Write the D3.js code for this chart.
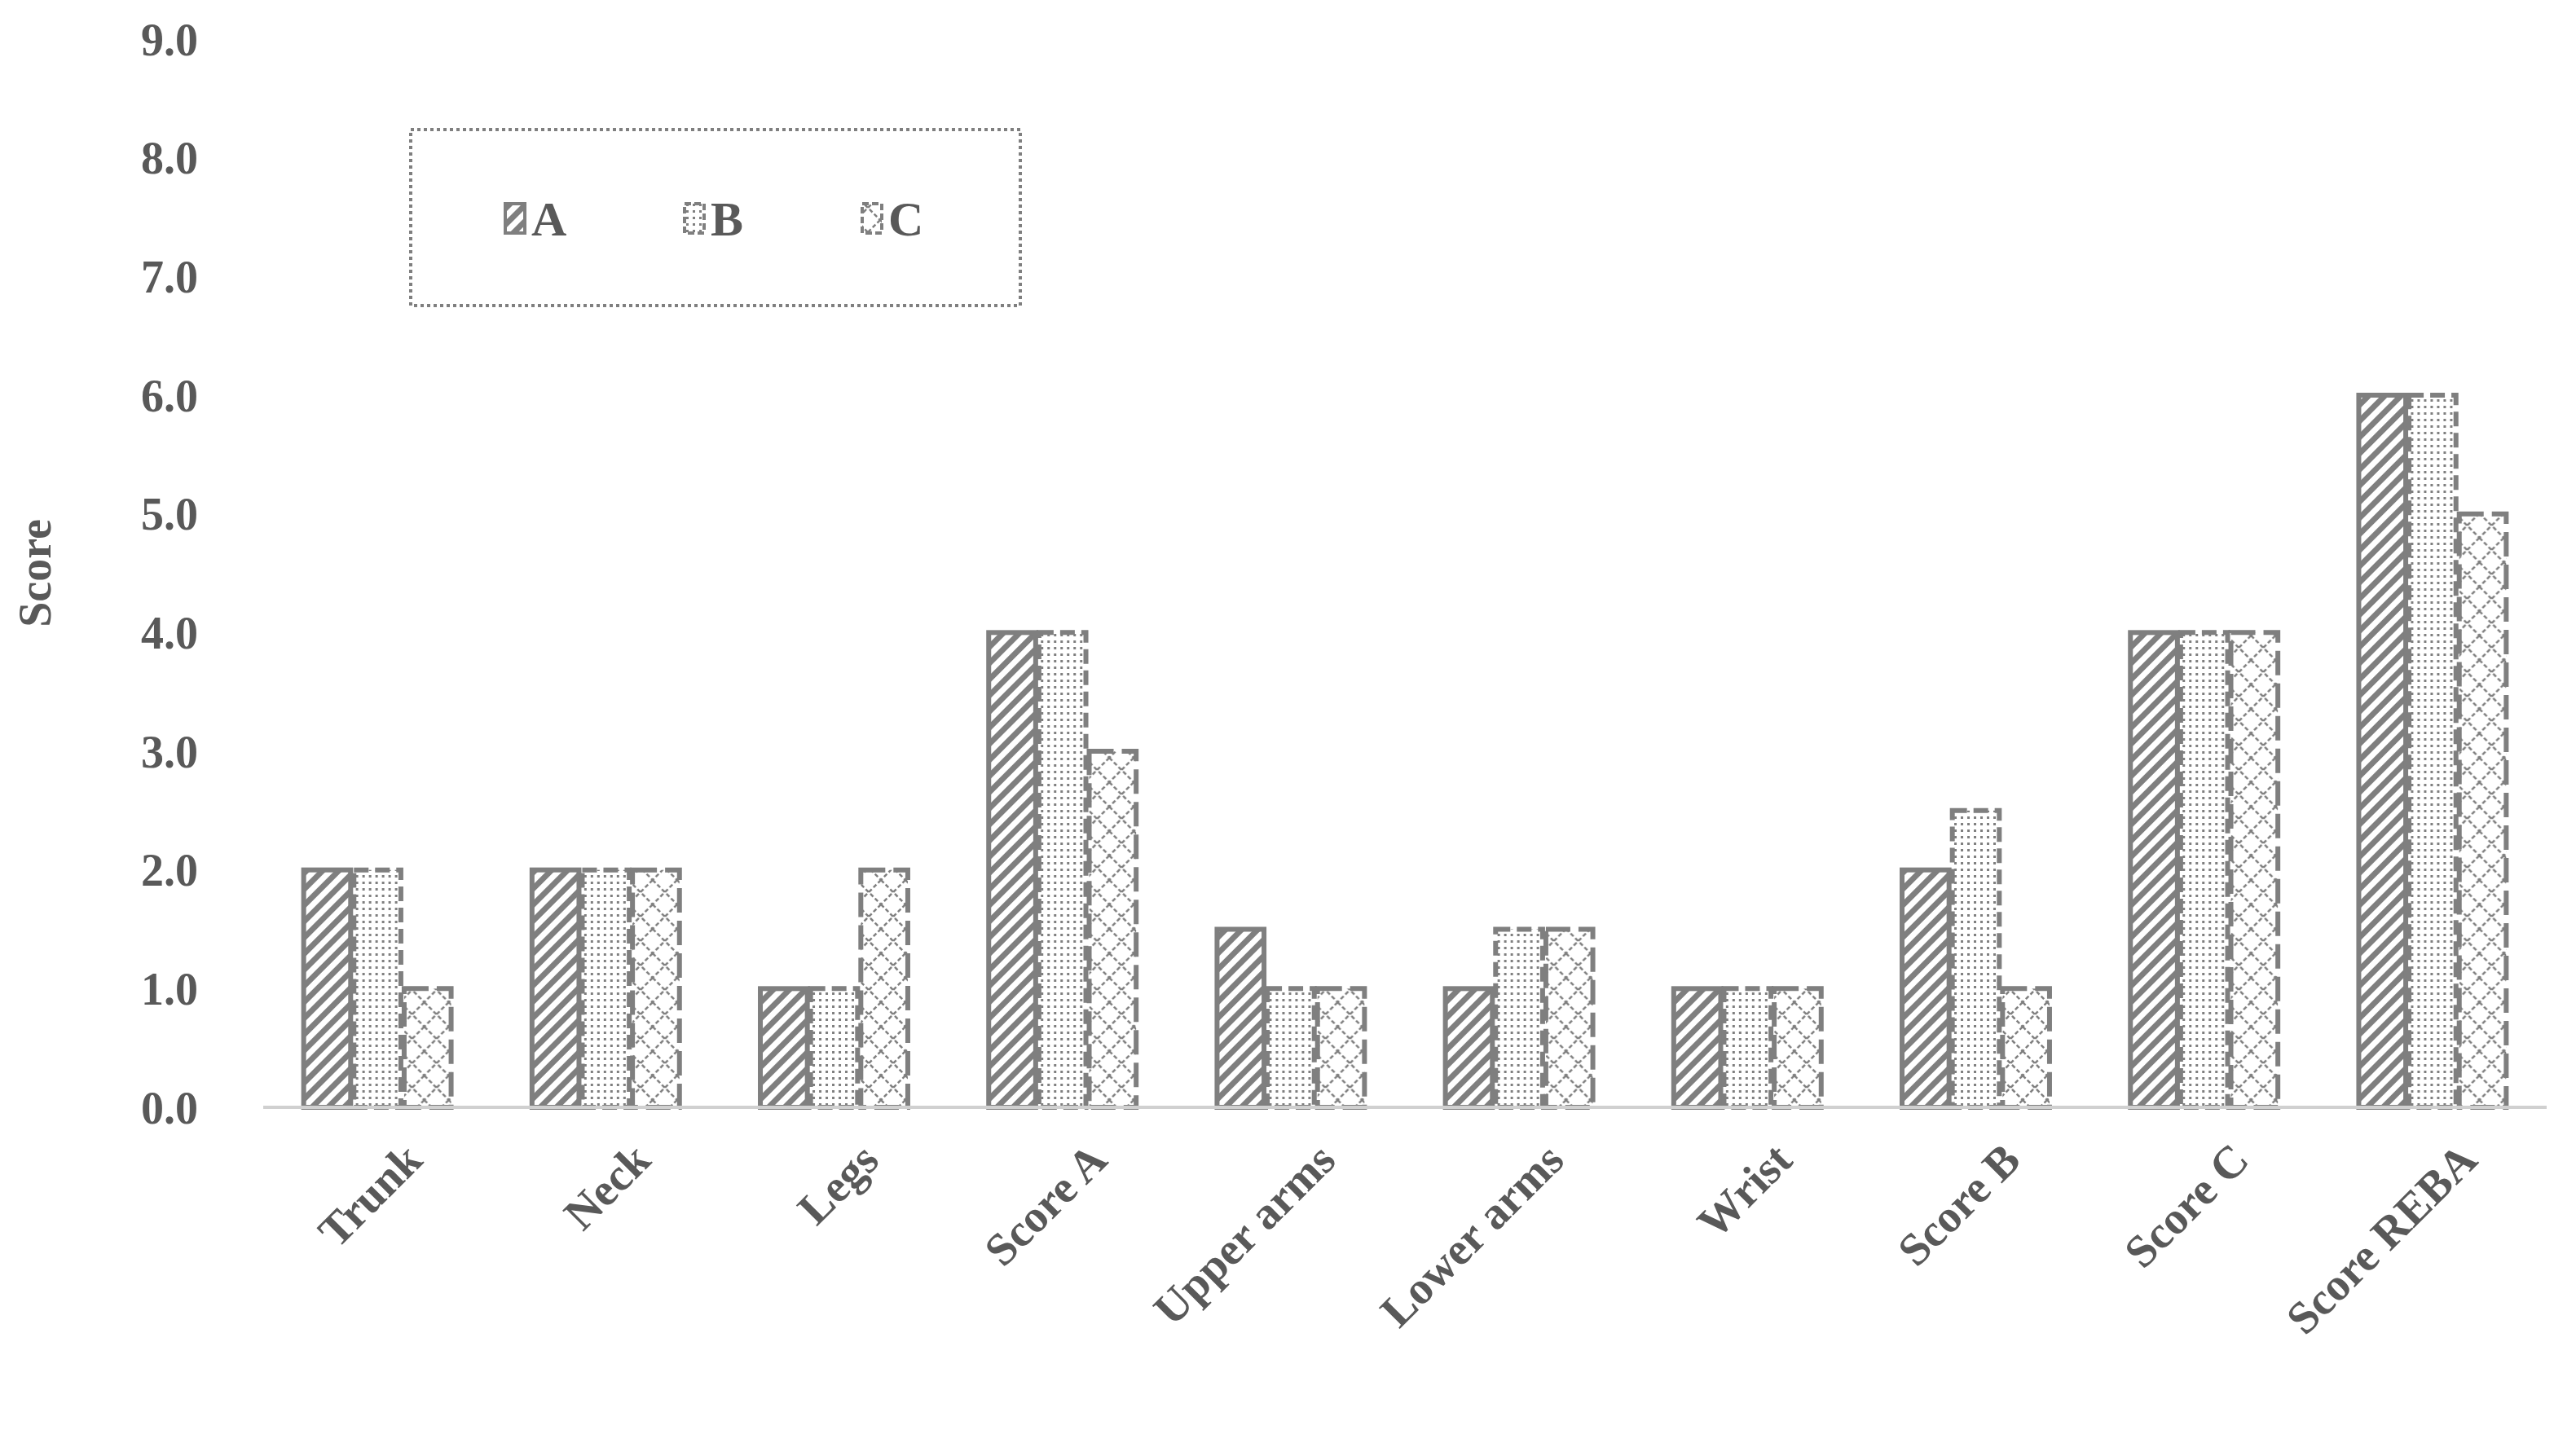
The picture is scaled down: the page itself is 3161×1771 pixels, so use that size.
<!DOCTYPE html>
<html>
<head>
<meta charset="utf-8">
<script src="https://cdn.jsdelivr.net/npm/d3@7/dist/d3.min.js"></script>
<style>
  body { margin: 0; background: #fff; }
  text { font-family: "Liberation Serif", "Times New Roman", serif; font-weight: bold; fill: #595959; }
</style>
</head>
<body>
<svg width="3161" height="1771"></svg>
<script>
var categories = ["Trunk", "Neck", "Legs", "Score A", "Upper arms", "Lower arms", "Wrist", "Score B", "Score C", "Score REBA"];
var seriesNames = ["A", "B", "C"];
var valuesA = [2, 2, 1, 4, 1.5, 1, 1, 2, 4, 6];
var valuesB = [2, 2, 1, 4, 1, 1.5, 1, 2.5, 4, 6];
var valuesC = [1, 2, 2, 3, 1, 1.5, 1, 1, 4, 5];
var yTicks = [0, 1, 2, 3, 4, 5, 6, 7, 8, 9];

var width = 3161, height = 1771;
var margin = { left: 323, right: 36, top: 48, bottom: 412 };
var grey = "#7f7f7f";

var svg = d3.select("svg");
var defs = svg.append("defs");

// stripes for A
var pA = defs.append("pattern").attr("id", "patA").attr("patternUnits", "userSpaceOnUse")
  .attr("width", 14).attr("height", 14).attr("patternTransform", "rotate(-45)");
pA.append("rect").attr("width", 14).attr("height", 14).attr("fill", "#fff");
pA.append("rect").attr("width", 14).attr("height", 7).attr("fill", grey);
// dots for B
var pB = defs.append("pattern").attr("id", "patB").attr("patternUnits", "userSpaceOnUse")
  .attr("width", 8).attr("height", 8);
pB.append("rect").attr("width", 8).attr("height", 8).attr("fill", "#fff");
pB.append("rect").attr("x", 2).attr("y", 2).attr("width", 3).attr("height", 3).attr("fill", grey);
// crosshatch for C
var pC = defs.append("pattern").attr("id", "patC").attr("patternUnits", "userSpaceOnUse")
  .attr("width", 30).attr("height", 30);
pC.append("rect").attr("width", 30).attr("height", 30).attr("fill", "#fff");
pC.append("path").attr("d", "M0,0L30,30M30,0L0,30").attr("stroke", grey)
  .attr("stroke-width", 2.5).attr("stroke-dasharray", "5,3");

var styles = {
  A: { fill: "url(#patA)", dash: null },
  B: { fill: "url(#patB)", dash: "18,8" },
  C: { fill: "url(#patC)", dash: "30,10" }
};

var x0 = d3.scaleBand().domain(categories)
  .range([margin.left, width - margin.right]).paddingInner(0.34).paddingOuter(0.17);
var x1 = d3.scaleBand().domain(seriesNames).range([0, x0.bandwidth()]);
var y = d3.scaleLinear().domain([0, 9]).range([height - margin.bottom, margin.top]);

// y axis labels
svg.append("g").selectAll("text").data(yTicks).enter().append("text")
  .attr("x", 243).attr("y", function(d) { return y(d); }).attr("dy", "0.35em")
  .attr("text-anchor", "end").style("font-size", "56px")
  .text(function(d) { return d.toFixed(1); });

svg.append("text")
  .attr("transform", "translate(62," + y(4.5) + ") rotate(-90)")
  .attr("text-anchor", "middle").style("font-size", "56px").text("Score");

// bars
var rows = categories.map(function(c, i) {
  return { cat: c, vals: [valuesA[i], valuesB[i], valuesC[i]] };
});
var groups = svg.append("g").selectAll("g").data(rows).enter().append("g")
  .attr("transform", function(d) { return "translate(" + x0(d.cat) + ",0)"; });
groups.selectAll("rect").data(function(d) {
    return d.vals.map(function(v, j) { return { s: seriesNames[j], v: v }; });
  }).enter().append("rect")
  .attr("x", function(d) { return x1(d.s) + 2; })
  .attr("y", function(d) { return y(d.v); })
  .attr("width", x1.bandwidth() - 4)
  .attr("height", function(d) { return y(0) - y(d.v); })
  .attr("fill", function(d) { return styles[d.s].fill; })
  .attr("stroke", grey).attr("stroke-width", 6)
  .attr("stroke-dasharray", function(d) { return styles[d.s].dash; });

// baseline
svg.append("line").attr("x1", margin.left).attr("x2", width - margin.right)
  .attr("y1", y(0)).attr("y2", y(0)).attr("stroke", "#d0d0d0").attr("stroke-width", 4);

// x labels
svg.append("g").selectAll("text").data(categories).enter().append("text")
  .attr("transform", function(d) {
    return "translate(" + (x0(d) + x0.bandwidth() / 2 + 30) + "," + (y(0) + 40) + ") rotate(-45)";
  })
  .attr("text-anchor", "end").attr("dy", "0.7em").style("font-size", "56px").text(function(d) { return d; });

// legend
var lg = svg.append("g");
lg.append("rect").attr("x", 504).attr("y", 159).attr("width", 748).attr("height", 216)
  .attr("fill", "none").attr("stroke", grey).attr("stroke-width", 4).attr("stroke-dasharray", "4,4");
var lx = [620, 840, 1058];
seriesNames.forEach(function(s, i) {
  lg.append("rect").attr("x", lx[i]).attr("y", 250).attr("width", 24).attr("height", 36)
    .attr("fill", styles[s].fill).attr("stroke", grey).attr("stroke-width", 4)
    .attr("stroke-dasharray", styles[s].dash ? "8,4" : null);
  lg.append("text").attr("x", lx[i] + 32).attr("y", 268).attr("dy", "0.35em")
    .style("font-size", "60px").text(s);
});
</script>
</body>
</html>
